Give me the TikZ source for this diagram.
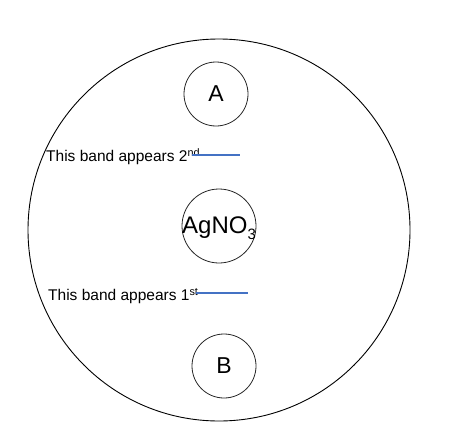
\documentclass[tikz,border=0pt]{standalone}
\usepackage{fontspec}
\setmainfont{Liberation Sans}
\usetikzlibrary{positioning, calc}
\definecolor{bandblue}{RGB}{68,114,196}
\tikzset{
  plate/.style={circle, draw=black, line width=0.9pt, minimum size=382pt, inner sep=0pt},
  well/.style={circle, draw=black!85, line width=0.8pt, minimum size=64pt, inner sep=0pt, font=\fontsize{23}{25}\selectfont},
  bandtext/.style={anchor=west, inner sep=0pt, font=\fontsize{15.5}{17}\selectfont},
  bandline/.style={draw=bandblue, line width=1.3pt},
}
\begin{document}
\begin{tikzpicture}[x=1pt, y=-1pt]
\useasboundingbox (0,0) rectangle (473,428);
% plate and wells
\node (plate) [plate] at (219,230) {};
\node (wellA) [well] at (216,94) {A};
\node (wellS) [well, minimum size=74pt] at (219,226) {};
\node (salt) [anchor=base west, inner sep=0pt, font=\fontsize{24}{26}\selectfont] at (182,233) {AgNO\raisebox{-6pt}{\fontsize{15}{16}\selectfont 3}};
\node (wellB) [well] at (224,366) {B};
% bands
\node (band2) [bandtext] at (46,157) {This band appears 2\textsuperscript{nd}};
\node (band1) [bandtext] at (48,296) {This band appears 1\textsuperscript{st}};
\coordinate (end2) at (240,155);
\coordinate (end1) at (248,293);
\draw[bandline] ($(band2.east)+(-8,-2)$) -- (end2);
\draw[bandline] ($(band1.east)+(-3,-3)$) -- (end1);
\end{tikzpicture}
\end{document}
